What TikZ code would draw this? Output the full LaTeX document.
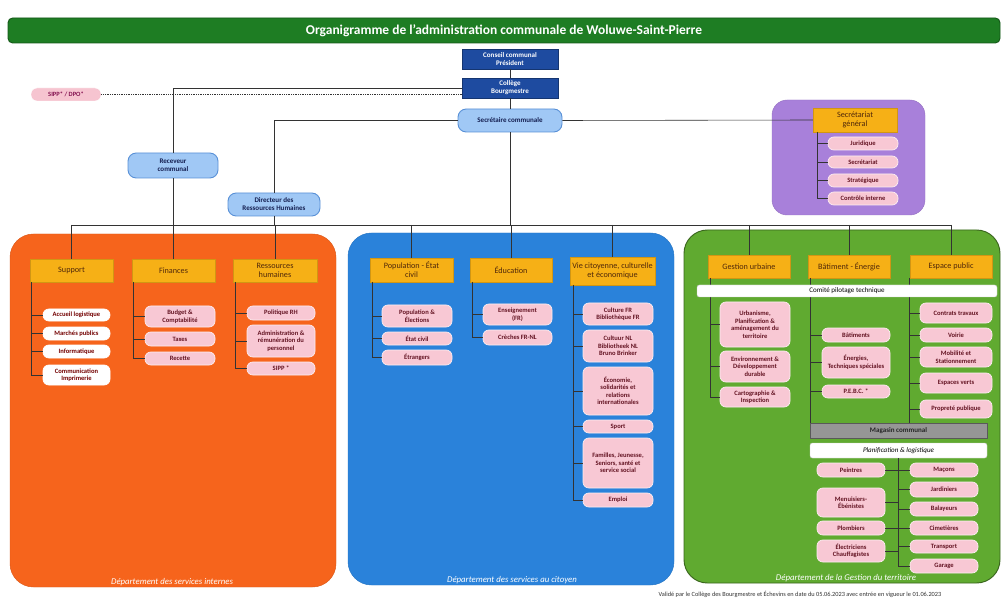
\documentclass[tikz,border=0pt]{standalone}
\usepackage{fontspec}
\setmainfont{Carlito}
\definecolor{titlegreen}{RGB}{30,125,35}
\definecolor{darkblue}{RGB}{30,75,160}
\definecolor{lightblue}{RGB}{160,200,245}
\definecolor{lbborder}{RGB}{90,145,215}
\definecolor{navy}{RGB}{20,30,80}
\definecolor{orangep}{RGB}{246,100,28}
\definecolor{bluep}{RGB}{42,130,218}
\definecolor{greenp}{RGB}{96,170,48}
\definecolor{purplep}{RGB}{168,128,218}
\definecolor{gold}{RGB}{246,176,22}
\definecolor{hdrtext}{RGB}{80,40,10}
\definecolor{pinkfill}{RGB}{248,200,212}
\definecolor{pinktext}{RGB}{100,20,35}
\definecolor{sipppink}{RGB}{246,196,208}
\definecolor{graybar}{RGB}{150,150,150}
\newcommand{\obox}[7]{\node[#2, minimum width={(#5-#3)*0.3mm}, minimum height={(#6-#4)*0.3mm}] (#1) at ({(#3+#5)/2},{(#4+#6)/2}) {#7};}
\tikzset{
  titlebar/.style={fill=titlegreen, draw=titlegreen!70!black, line width=0.8pt, rounded corners=4pt, text=white, font=\fontsize{11.5}{13}\selectfont\bfseries, inner sep=0pt},
  darkbox/.style={fill=darkblue, draw=darkblue!70!black, text=white, font=\fontsize{6}{6.8}\selectfont\bfseries, align=center, inner sep=0pt},
  lbpill/.style={fill=lightblue, draw=lbborder, line width=0.8pt, rounded corners=7pt, text=navy, font=\fontsize{6}{6.8}\selectfont\bfseries, align=center, inner sep=0pt},
  sipppill/.style={fill=sipppink, draw=white, rounded corners=5pt, text=pinktext!80!magenta, font=\fontsize{5.5}{6.3}\selectfont\bfseries, align=center, inner sep=0pt},
  hdr/.style={fill=gold, draw=gold!85!black, text=hdrtext, font=\fontsize{7}{7.6}\selectfont, align=center, inner sep=0pt},
  pill/.style={fill=pinkfill, draw=white!70!pinkfill, line width=0.6pt, rounded corners=5pt, text=pinktext, font=\fontsize{5.6}{6.4}\selectfont\bfseries, align=center, inner sep=0pt},
  wpill/.style={pill, fill=white, draw=white, text=red!45!black},
  wbar/.style={fill=white, draw=gray!40, rounded corners=2pt, text=black, font=\fontsize{6}{6.8}\selectfont, inner sep=0pt},
  gbar/.style={fill=graybar, draw=gray!70!black, text=black!85, font=\fontsize{6}{6.8}\selectfont\bfseries, inner sep=0pt},
  conn/.style={draw=black!80, line width=0.5pt},
  foot/.style={text=white, font=\fontsize{7.5}{8.5}\selectfont\itshape, inner sep=0pt}
}
\begin{document}
\begin{tikzpicture}[x=0.3mm, y=-0.3mm]
\useasboundingbox[fill=white] (0,0) rectangle (1002,600);
% panels
\draw[fill=orangep, draw=orangep!90!black, rounded corners=20pt] (10,234) rectangle (336,587);
\draw[fill=bluep, draw=bluep!90!black, rounded corners=20pt] (348,233) rectangle (674,585);
\draw[fill=greenp, draw=greenp!60!black, line width=0.8pt, rounded corners=20pt] (684,230) rectangle (1000,583);
\draw[fill=purplep, draw=purplep!90!black, rounded corners=13pt] (772,100) rectangle (925,215);
% title
\obox{title}{titlebar}{8}{18}{1000}{43}{Organigramme de l'administration communale de Woluwe-Saint-Pierre}
% top hierarchy
\obox{conseil}{darkbox}{462}{49}{558}{69}{Conseil communal\\Président}
\obox{college}{darkbox}{462}{78}{558}{98}{Collège\\Bourgmestre}
\obox{secom}{lbpill}{458}{109}{562}{132}{Secrétaire communale}
\obox{sipp}{sipppill}{31}{88}{101}{101}{SIPP* / DPO*}
\obox{recev}{lbpill}{128}{153}{218}{178}{Receveur\\communal}
\obox{drh}{lbpill}{228}{193}{320}{216}{Directeur des\\Ressources Humaines}
\coordinate (busL) at (0,225);
% Secretariat general
\obox{hSG}{hdr}{813}{108}{897}{132}{Secrétariat\\général}
\obox{sg1}{pill}{828}{137}{898}{150}{Juridique}
\obox{sg2}{pill}{828}{156}{898}{168}{Secrétariat}
\obox{sg3}{pill}{828}{174}{898}{187}{Stratégique}
\obox{sg4}{pill}{828}{192}{898}{205}{Contrôle interne}
% headers
\obox{hSup}{hdr}{30}{259}{113}{282}{Support}
\obox{hFin}{hdr}{132}{259}{215}{282}{Finances}
\obox{hRH}{hdr}{233}{259}{317}{282}{Ressources\\humaines}
\obox{hPop}{hdr}{370}{258}{453}{282}{Population - État\\civil}
\obox{hEdu}{hdr}{470}{258}{552}{282}{Éducation}
\obox{hVie}{hdr}{570}{257}{655}{285}{Vie citoyenne, culturelle\\et économique}
\obox{hGU}{hdr}{708}{255}{790}{278}{Gestion urbaine}
\obox{hBat}{hdr}{808}{255}{890}{278}{Bâtiment - Énergie}
\obox{hEsp}{hdr}{910}{255}{992}{278}{Espace public}
% connectors top
\draw[conn] (conseil.south) -- (college.north);
\draw[conn] (college.south) -- (secom.north);
\draw[conn] (secom.south) -- (secom.south |- busL);
\draw[conn] (college.west) -| (recev.north);
\draw[conn] (recev.south) -- (recev.south |- busL);
\draw[conn] (secom.west) -| (drh.north);
\draw[conn] (drh.south) -- (drh.south |- busL);
\draw[conn] (secom.east) -- (hSG.west);
\draw[conn, densely dotted, line width=0.7pt] (sipp.east) -- (sipp.east -| college.west);
\draw[conn] (hSup.north |- busL) -- (hEsp.north |- busL);
\foreach \h in {hSup,hFin,hRH,hPop,hEdu,hVie,hGU,hBat,hEsp}{\draw[conn] (\h.north |- busL) -- (\h.north);}
% Support children
\obox{su1}{wpill}{43}{309}{110}{321}{Accueil logistique}
\obox{su2}{wpill}{43}{327}{110}{340}{Marchés publics}
\obox{su3}{wpill}{43}{345}{110}{358}{Informatique}
\obox{su4}{wpill}{43}{365}{110}{385}{Communication\\Imprimerie}
% Finances children
\obox{fi1}{pill}{145}{306}{215}{327}{Budget \&\\Comptabilité}
\obox{fi2}{pill}{145}{332}{215}{346}{Taxes}
\obox{fi3}{pill}{145}{352}{215}{365}{Recette}
% RH children
\obox{rh1}{pill}{247}{306}{315}{320}{Politique RH}
\obox{rh2}{pill}{247}{325}{315}{357}{Administration \&\\rémunération du\\personnel}
\obox{rh3}{pill}{247}{362}{315}{375}{SIPP *}
% Population children
\obox{po1}{pill}{382}{305}{452}{327}{Population \&\\Élections}
\obox{po2}{pill}{382}{332}{452}{345}{État civil}
\obox{po3}{pill}{382}{350}{452}{365}{Étrangers}
% Education children
\obox{ed1}{pill}{483}{304}{552}{325}{Enseignement\\(FR)}
\obox{ed2}{pill}{483}{330}{552}{345}{Crèches FR-NL}
% Vie citoyenne children
\obox{vi1}{pill}{583}{303}{653}{325}{Culture FR\\Bibliothèque FR}
\obox{vi2}{pill}{583}{330}{653}{362}{Cultuur NL\\Bibliotheek NL\\Bruno Brinker}
\obox{vi3}{pill}{583}{367}{653}{415}{Économie,\\solidarités et\\relations\\internationales}
\obox{vi4}{pill}{583}{420}{653}{433}{Sport}
\obox{vi5}{pill}{583}{438}{653}{488}{Familles, Jeunesse,\\Seniors, santé et\\service social}
\obox{vi6}{pill}{583}{493}{653}{507}{Emploi}
% Green
\obox{gu1}{pill}{720}{302}{790}{347}{Urbanisme,\\Planification \&\\aménagement du\\territoire}
\obox{gu2}{pill}{720}{351}{790}{382}{Environnement \&\\Développement\\durable}
\obox{gu3}{pill}{720}{387}{790}{407}{Cartographie \&\\Inspection}
\obox{ba1}{pill}{822}{328}{890}{342}{Bâtiments}
\obox{ba2}{pill}{822}{347}{890}{378}{Énergies,\\Techniques spéciales}
\obox{ba3}{pill}{822}{385}{890}{398}{P.E.B.C. *}
\obox{es1}{pill}{920}{303}{992}{323}{Contrats travaux}
\obox{es2}{pill}{920}{328}{992}{342}{Voirie}
\obox{es3}{pill}{920}{347}{992}{367}{Mobilité et\\Stationnement}
\obox{es4}{pill}{920}{373}{992}{393}{Espaces verts}
\obox{es5}{pill}{920}{400}{992}{418}{Propreté publique}
\obox{magasin}{gbar}{810}{423}{987}{438}{Magasin communal}
\obox{planif}{wbar}{810}{443}{987}{458}{\itshape Planification \& logistique}
\obox{pl1}{pill}{817}{463}{885}{477}{Peintres}
\obox{pl2}{pill}{817}{488}{885}{517}{Menuisiers-\\Ébénistes}
\obox{pl3}{pill}{817}{521}{885}{535}{Plombiers}
\obox{pl4}{pill}{817}{540}{885}{562}{Électriciens\\Chauffagistes}
\obox{pr1}{pill}{910}{463}{978}{477}{Maçons}
\obox{pr2}{pill}{910}{482}{978}{497}{Jardiniers}
\obox{pr3}{pill}{910}{502}{978}{516}{Balayeurs}
\obox{pr4}{pill}{910}{521}{978}{535}{Cimetières}
\obox{pr5}{pill}{910}{540}{978}{553}{Transport}
\obox{pr6}{pill}{910}{559}{978}{573}{Garage}
% bracket connectors
\coordinate (lSup) at (31,282);
\coordinate (lFin) at (133,282);
\coordinate (lRH) at (235,282);
\coordinate (lPop) at (372,282);
\coordinate (lEdu) at (472,282);
\coordinate (lVie) at (573,285);
\coordinate (lGU) at (710,278);
\coordinate (lBat) at (810,278);
\coordinate (lEsp) at (909,278);
\coordinate (lSG) at (817,132);
\coordinate (spine) at (898,458);
\draw[conn] (lSup) |- (su4.west); \foreach \c in {su1,su2,su3}{\draw[conn] (\c.west) -- (\c.west -| lSup);}
\draw[conn] (lFin) |- (fi3.west); \foreach \c in {fi1,fi2}{\draw[conn] (\c.west) -- (\c.west -| lFin);}
\draw[conn] (lRH) |- (rh3.west); \foreach \c in {rh1,rh2}{\draw[conn] (\c.west) -- (\c.west -| lRH);}
\draw[conn] (lPop) |- (po3.west); \foreach \c in {po1,po2}{\draw[conn] (\c.west) -- (\c.west -| lPop);}
\draw[conn] (lEdu) |- (ed2.west); \draw[conn] (ed1.west) -- (ed1.west -| lEdu);
\draw[conn] (lVie) |- (vi6.west); \foreach \c in {vi1,vi2,vi3,vi4,vi5}{\draw[conn] (\c.west) -- (\c.west -| lVie);}
\draw[conn] (lGU) |- (gu3.west); \foreach \c in {gu1,gu2}{\draw[conn] (\c.west) -- (\c.west -| lGU);}
\draw[conn] (lBat) -- (lBat |- magasin.north); \foreach \c in {ba1,ba2,ba3}{\draw[conn] (\c.west) -- (\c.west -| lBat);}
\draw[conn] (lEsp) -- (lEsp |- magasin.north); \foreach \c in {es1,es2,es3,es4,es5}{\draw[conn] (\c.west) -- (\c.west -| lEsp);}
\draw[conn] (lSG) |- (sg4.west); \foreach \c in {sg1,sg2,sg3}{\draw[conn] (\c.west) -- (\c.west -| lSG);}
\draw[conn] (spine) -- (spine |- pr6.west);
\foreach \c in {pl1,pl2,pl3,pl4}{\draw[conn] (\c.east) -- (\c.east -| spine);}
\foreach \c in {pr1,pr2,pr3,pr4,pr5,pr6}{\draw[conn] (\c.west) -- (\c.west -| spine);}
% comite bar on top of the bracket lines
\obox{comite}{wbar}{697}{285}{997}{297}{Comité pilotage technique}
% footers
\node[foot] (f1) at (172,582) {Département des services internes};
\node[foot] (f2) at (512,580) {Département des services au citoyen};
\node[foot] (f3) at (846,578) {Département de la Gestion du territoire};
\node[text=black!80, font=\fontsize{5.4}{6}\selectfont, inner sep=0pt] (note) at (800,594) {Validé par le Collège des Bourgmestre et Échevins en date du 05.06.2023 avec entrée en vigueur le 01.06.2023};
\end{tikzpicture}
\end{document}
